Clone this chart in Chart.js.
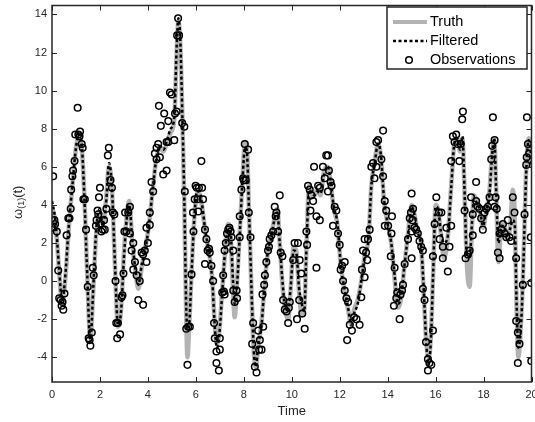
<!DOCTYPE html>
<html>
<head>
<meta charset="utf-8">
<script src="https://cdn.jsdelivr.net/npm/chart.js@4/dist/chart.umd.min.js"></script>
<style>
  html, body { margin: 0; padding: 0; background: #fff; overflow: hidden; }
  #wrap { width: 537px; height: 422px; }
</style>
</head>
<body>
<div id="wrap"><canvas id="myChart"></canvas></div>
<script>
// truth curve (key points)
const truthT = [0.0,0.15,0.3,0.42,0.55,0.7,0.85,1.0,1.12,1.25,1.35,1.45,1.6,1.72,1.85,2.0,2.12,2.25,2.38,2.5,2.62,2.75,2.88,3.0,3.15,3.22,3.35,3.5,3.6,3.75,3.9,4.05,4.2,4.35,4.5,4.65,4.8,4.95,5.1,5.2,5.27,5.35,5.45,5.52,5.6,5.65,5.72,5.82,5.95,6.05,6.15,6.25,6.4,6.55,6.68,6.8,6.88,6.98,7.1,7.22,7.35,7.45,7.55,7.62,7.72,7.85,7.95,8.05,8.12,8.22,8.32,8.42,8.5,8.6,8.75,8.85,9.0,9.15,9.3,9.4,9.5,9.6,9.72,9.85,9.95,10.08,10.2,10.3,10.42,10.52,10.62,10.72,10.85,10.95,11.05,11.2,11.35,11.5,11.62,11.75,11.9,12.05,12.2,12.35,12.48,12.6,12.75,12.9,13.05,13.2,13.32,13.45,13.6,13.72,13.85,14.0,14.15,14.3,14.42,14.55,14.7,14.85,15.0,15.1,15.25,15.4,15.5,15.6,15.7,15.8,15.9,16.0,16.1,16.22,16.35,16.5,16.65,16.78,16.9,17.02,17.12,17.2,17.3,17.42,17.52,17.6,17.72,17.85,17.98,18.1,18.25,18.35,18.45,18.52,18.62,18.75,18.88,19.0,19.12,19.22,19.3,19.38,19.45,19.55,19.65,19.72,19.8,19.88,19.95,20.0];
const truthY = [3.9,3.0,0.5,-1.2,0.0,2.8,5.0,7.0,7.6,6.8,4.5,1.0,-3.0,-0.5,2.6,3.6,3.0,4.2,6.0,4.8,1.0,-2.4,-1.5,1.5,3.8,4.2,2.0,0.3,-0.4,0.8,1.8,3.0,4.8,6.4,7.0,6.8,7.3,7.8,8.5,12.0,13.6,12.5,8.0,4.0,-2.0,-4.0,-2.5,0.5,3.6,4.6,4.6,4.0,2.5,1.5,0.2,-2.5,-3.3,-2.6,-0.5,1.5,3.0,2.4,-0.5,-1.9,0.0,3.0,5.5,7.3,7.2,3.5,-0.5,-3.8,-4.5,-3.5,-2.0,-0.5,1.5,2.4,3.4,3.8,2.0,0.0,-1.5,-2.0,-0.5,1.8,1.5,-0.5,-1.8,-1.5,2.0,5.0,4.5,4.5,4.8,4.5,5.8,6.0,5.2,3.8,3.0,0.8,-0.5,-1.5,-2.3,-1.5,-1.0,0.0,1.4,2.2,5.0,6.2,7.2,6.5,4.2,3.0,2.0,0.0,-1.4,-1.0,0.8,2.5,4.0,3.6,2.6,1.8,-0.5,-3.0,-4.0,-3.0,0.5,4.0,3.8,2.5,1.2,2.2,5.0,7.2,7.5,6.8,7.5,5.0,1.0,-0.3,3.0,4.5,4.2,3.6,2.8,3.6,4.8,6.6,7.4,5.0,1.0,3.0,2.8,2.2,3.0,4.8,3.5,-1.5,-4.0,-2.5,0.5,3.5,6.5,7.5,7.0,6.0];

// filtered estimate (key points)
const filtT = [0.0,0.15,0.3,0.42,0.55,0.7,0.85,1.0,1.12,1.25,1.35,1.45,1.6,1.72,1.85,2.0,2.12,2.25,2.38,2.5,2.62,2.75,2.88,3.0,3.15,3.22,3.35,3.5,3.6,3.75,3.9,4.05,4.2,4.35,4.5,4.65,4.8,4.95,5.1,5.2,5.27,5.35,5.45,5.52,5.6,5.65,5.72,5.82,5.95,6.05,6.15,6.25,6.4,6.55,6.68,6.8,6.88,6.98,7.1,7.22,7.35,7.45,7.55,7.62,7.72,7.85,7.95,8.05,8.12,8.22,8.32,8.42,8.5,8.6,8.75,8.85,9.0,9.15,9.3,9.4,9.5,9.6,9.72,9.85,9.95,10.08,10.2,10.3,10.42,10.52,10.62,10.72,10.85,10.95,11.05,11.2,11.35,11.5,11.62,11.75,11.9,12.05,12.2,12.35,12.48,12.6,12.75,12.9,13.05,13.2,13.32,13.45,13.6,13.72,13.85,14.0,14.15,14.3,14.42,14.55,14.7,14.85,15.0,15.1,15.25,15.4,15.5,15.6,15.7,15.8,15.9,16.0,16.1,16.22,16.35,16.5,16.65,16.78,16.9,17.02,17.12,17.2,17.3,17.42,17.52,17.6,17.72,17.85,17.98,18.1,18.25,18.35,18.45,18.52,18.62,18.75,18.88,19.0,19.12,19.22,19.3,19.38,19.45,19.55,19.65,19.72,19.8,19.88,19.95,20.0];
const filtY = [4.2,3.1,0.6,-1.1,0.2,2.9,5.0,7.0,7.7,7.0,4.4,1.0,-3.2,-0.4,2.8,3.8,2.9,4.0,6.2,4.9,1.1,-2.3,-1.6,1.2,3.7,4.0,2.1,0.4,-0.2,0.9,1.7,3.0,4.8,6.4,7.1,6.9,7.4,8.0,8.6,12.3,13.8,12.7,8.0,4.2,-1.5,-2.5,-2.3,0.4,3.6,4.7,4.7,4.1,2.6,1.5,0.1,-2.6,-3.5,-2.8,-0.6,1.6,2.7,2.5,0.0,-1.2,-0.2,2.9,5.4,7.0,6.9,3.6,-0.4,-3.7,-4.5,-3.4,-2.2,-0.4,1.5,2.3,3.4,3.6,2.0,0.2,-1.3,-1.5,-0.4,1.6,1.4,-0.3,-1.2,-1.6,2.0,4.8,4.6,4.5,4.7,4.6,5.6,6.0,5.3,3.9,3.1,0.8,-0.4,-1.4,-2.3,-1.7,-1.2,0.0,1.3,2.2,5.0,6.1,7.2,6.6,4.3,3.0,2.0,0.2,-1.2,-0.9,0.8,2.4,3.9,3.6,2.6,1.8,-0.3,-3.0,-4.4,-3.2,0.5,3.9,3.8,2.6,2.0,2.3,4.9,7.2,7.5,6.9,7.6,5.0,1.4,1.3,3.1,4.3,4.1,3.7,2.9,3.6,4.6,6.5,7.5,5.0,2.0,2.9,2.8,2.3,2.8,3.2,3.0,-1.3,-3.5,-2.6,0.3,3.4,6.3,7.4,7.0,6.0];

// observations
const obsT = [0.0,0.05,0.1,0.13,0.2,0.26,0.3,0.36,0.4,0.44,0.47,0.52,0.61,0.68,0.73,0.78,0.8,0.85,0.88,0.94,0.97,1.07,1.1,1.15,1.17,1.24,1.28,1.31,1.37,1.42,1.49,1.53,1.57,1.6,1.66,1.7,1.74,1.83,1.86,1.9,1.93,1.96,2.0,2.03,2.06,2.12,2.17,2.2,2.27,2.33,2.37,2.44,2.5,2.54,2.6,2.65,2.68,2.72,2.75,2.84,2.9,2.94,2.98,3.02,3.05,3.1,3.18,3.25,3.25,3.32,3.39,3.39,3.46,3.53,3.6,3.66,3.74,3.8,3.8,3.87,3.94,3.94,4.0,4.08,4.08,4.15,4.22,4.29,4.36,4.43,4.5,4.36,4.54,4.46,4.64,4.78,4.68,4.78,4.85,4.92,4.85,4.99,5.1,5.13,5.2,5.22,5.26,5.3,5.43,5.52,5.54,5.6,5.65,5.68,5.75,5.82,5.88,5.9,5.95,5.99,6.04,6.07,6.1,6.13,6.23,6.26,6.3,6.38,6.38,6.44,6.49,6.55,6.58,6.65,6.72,6.76,6.79,6.86,6.86,6.96,7.0,7.0,7.1,7.14,7.17,7.2,7.2,7.25,7.3,7.35,7.4,7.45,7.49,7.56,7.56,7.62,7.7,7.72,7.83,7.83,7.9,7.97,8.0,8.04,8.08,8.18,8.21,8.28,8.35,8.39,8.46,8.53,8.6,8.64,8.67,8.74,8.78,8.81,8.85,8.88,8.94,9.01,9.05,9.08,9.15,9.22,9.29,9.33,9.36,9.43,9.5,9.54,9.61,9.64,9.71,9.78,9.85,9.88,9.92,10.06,10.12,10.22,10.26,10.31,10.33,10.4,10.44,10.54,10.61,10.64,10.68,10.75,10.78,10.82,10.89,10.93,11.03,11.03,11.1,11.17,11.17,11.3,11.38,11.44,11.51,11.51,11.55,11.62,11.66,11.72,11.79,11.86,11.93,12.0,12.04,12.1,12.14,12.21,12.21,12.28,12.35,12.31,12.42,12.51,12.6,12.7,12.83,12.9,12.93,12.97,13.04,13.04,13.1,13.15,13.18,13.25,13.32,13.39,13.45,13.53,13.6,13.53,13.74,13.81,13.81,13.88,13.94,13.88,14.02,14.16,14.18,14.13,14.29,14.36,14.26,14.4,14.5,14.54,14.6,14.64,14.71,14.85,14.92,14.97,15.0,15.06,15.04,15.0,15.0,15.12,15.19,15.26,15.33,15.4,15.47,15.47,15.54,15.6,15.68,15.74,15.68,15.82,15.89,15.89,15.96,16.03,16.14,16.24,16.17,16.3,16.3,16.45,16.51,16.58,16.65,16.65,16.72,16.79,16.86,16.92,16.99,17.05,17.11,17.14,17.21,17.25,17.35,17.42,17.48,17.55,17.55,17.69,17.69,17.76,17.83,17.9,17.97,18.04,18.11,18.18,18.25,18.32,18.36,18.39,18.46,18.5,18.46,18.55,18.6,18.67,18.67,18.74,18.81,18.88,18.95,19.01,19.08,19.15,19.22,19.29,19.36,19.36,19.43,19.5,19.43,19.64,19.71,19.78,19.8,19.85,19.81,19.9,19.97,19.99,19.99];
const obsY = [2.8,5.5,3.2,3.0,2.6,0.55,-0.9,-1.0,-1.3,-1.1,-1.5,-0.65,2.4,3.3,3.3,3.8,4.8,5.5,5.8,6.3,7.7,9.1,7.7,7.6,7.85,7.2,7.0,4.3,4.3,2.7,-0.3,-3.0,-3.1,-3.4,-2.7,0.7,0.3,2.9,3.2,3.7,3.5,4.4,4.9,3.0,2.6,2.7,3.2,2.7,3.8,6.6,7.0,5.3,4.9,3.6,3.5,0.0,-2.2,-3.0,-2.2,-2.8,-0.85,-0.75,0.4,2.6,3.6,2.6,3.6,3.9,2.5,1.6,2.0,0.6,1.0,0.3,-1.0,0.0,1.5,-1.25,1.4,1.6,1.0,2.8,2.0,2.95,3.6,5.2,4.7,6.7,7.0,7.2,6.5,6.4,8.15,9.2,5.6,5.8,8.8,7.3,7.3,9.9,8.4,9.8,7.4,8.8,8.9,12.9,13.8,12.9,8.3,8.1,4.7,-2.5,-4.4,-2.4,-2.4,0.35,3.6,2.6,4.3,5.0,4.9,4.3,3.65,4.9,6.3,4.9,4.3,2.7,0.9,2.2,1.6,1.7,1.5,0.8,0.0,-2.2,-3.0,-3.7,-4.3,-4.7,-3.0,-3.6,-0.6,0.3,-0.55,1.6,-0.7,2.0,2.5,2.7,2.8,2.6,2.3,1.6,-0.5,-1.1,-0.5,-0.9,2.3,3.4,4.8,5.4,5.3,7.2,5.3,6.9,3.6,2.3,-3.3,-2.2,-4.5,-4.8,-2.6,-3.6,-3.1,-3.6,-0.7,-2.4,-0.2,0.3,1.0,1.6,1.8,2.2,2.4,2.6,3.9,3.4,3.6,2.6,4.5,1.5,1.3,-1.0,-1.5,-1.6,-2.2,-1.4,-1.1,1.1,2.0,-2.0,2.0,-1.0,1.1,0.4,-1.7,-2.5,2.6,1.9,5.0,4.8,3.7,4.5,4.2,6.0,3.4,0.7,5.0,4.9,3.2,6.0,5.4,6.6,6.6,4.7,5.8,5.2,5.0,2.9,3.9,3.7,2.5,1.9,0.6,0.8,0.0,1.0,-0.5,-0.9,-1.1,-3.1,-2.3,-2.6,-1.9,-2.0,-2.3,-0.85,0.6,1.6,0.2,2.2,1.5,1.1,2.2,2.7,6.0,6.2,5.4,7.3,7.4,6.0,6.4,7.9,5.5,4.2,3.7,2.9,2.9,2.5,3.4,1.3,0.7,-0.9,-1.3,-0.6,-2.0,-0.7,-0.5,-0.2,0.9,2.2,3.3,3.6,4.6,3.8,3.2,2.6,1.2,2.8,2.7,2.5,2.1,1.8,1.6,-0.4,-1.0,-3.2,-4.1,-4.3,-4.7,-4.4,-2.6,1.3,3.0,4.4,3.6,3.6,2.2,1.8,1.2,2.8,0.5,1.8,2.9,6.3,7.6,7.3,7.7,7.2,6.3,7.2,8.5,8.9,3.7,1.2,1.4,1.6,4.4,2.4,3.5,5.2,4.2,3.9,3.8,3.3,2.7,3.6,3.8,3.9,4.4,6.4,7.1,8.6,7.4,4.4,3.9,3.8,1.5,1.2,2.5,2.7,3.0,2.5,2.3,3.2,2.3,2.1,4.4,3.6,1.2,-2.1,-2.7,-3.3,-4.3,-0.2,3.5,6.1,6.5,7.2,8.6,6.7,2.3,-0.1,-4.2];

const xTicks = [0, 2, 4, 6, 8, 10, 12, 14, 16, 18, 20];
const yTicks = [-4, -2, 0, 2, 4, 6, 8, 10, 12, 14];

const axisColor = '#262626';
const fontFam = '"Liberation Sans", Arial, sans-serif';

const toXY = (xs, ys) => xs.map((v, i) => ({ x: v, y: ys[i] }));

// box, inward ticks, y title and legend, drawn like the original figure
const figurePlugin = {
  id: 'figure',
  afterDraw(chart) {
    const { ctx, chartArea: a, scales } = chart;
    ctx.save();
    ctx.strokeStyle = axisColor;
    ctx.lineWidth = 1;
    const tl = 5;
    ctx.beginPath();
    xTicks.forEach(v => {
      const px = Math.round(scales.x.getPixelForValue(v)) + 0.5;
      ctx.moveTo(px, a.bottom); ctx.lineTo(px, a.bottom - tl);
      ctx.moveTo(px, a.top); ctx.lineTo(px, a.top + tl);
    });
    yTicks.forEach(v => {
      const py = Math.round(scales.y.getPixelForValue(v)) + 0.5;
      ctx.moveTo(a.left, py); ctx.lineTo(a.left + tl, py);
      ctx.moveTo(a.right, py); ctx.lineTo(a.right - tl, py);
    });
    ctx.stroke();
    ctx.lineWidth = 1.5;
    ctx.strokeRect(a.left, a.top, a.right - a.left, a.bottom - a.top);

    // y axis title with subscript
    ctx.fillStyle = axisColor;
    ctx.translate(18, 219);
    ctx.rotate(-Math.PI / 2);
    ctx.textBaseline = 'middle';
    ctx.textAlign = 'left';
    ctx.font = '13px ' + fontFam;
    ctx.fillText('ω', 0, 0);
    let w = ctx.measureText('ω').width;
    ctx.font = '9px ' + fontFam;
    ctx.fillText('(1)', w, 4);
    w += ctx.measureText('(1)').width;
    ctx.font = '13px ' + fontFam;
    ctx.fillText('(t)', w, 0);
    ctx.restore();

    // legend
    ctx.save();
    const L = 387, T = 7, R = 527, B = 69;
    ctx.fillStyle = '#fff';
    ctx.fillRect(L, T, R - L, B - T);
    ctx.strokeStyle = axisColor;
    ctx.lineWidth = 1.5;
    ctx.strokeRect(L, T, R - L, B - T);
    ctx.lineWidth = 4;
    ctx.strokeStyle = '#b3b3b3';
    ctx.beginPath(); ctx.moveTo(393, 22); ctx.lineTo(427, 22); ctx.stroke();
    ctx.lineWidth = 2.5;
    ctx.strokeStyle = '#000';
    ctx.setLineDash([3, 2.5]);
    ctx.beginPath(); ctx.moveTo(393, 41); ctx.lineTo(427, 41); ctx.stroke();
    ctx.setLineDash([]);
    ctx.lineWidth = 1.5;
    ctx.beginPath(); ctx.arc(409, 60, 3.3, 0, Math.PI * 2); ctx.stroke();
    ctx.fillStyle = '#000';
    ctx.font = '14.5px ' + fontFam;
    ctx.textBaseline = 'middle';
    ctx.fillText('Truth', 430, 22);
    ctx.fillText('Filtered', 430, 41);
    ctx.fillText('Observations', 430, 60);
    ctx.restore();
  }
};

const config = {
  type: 'line',
  data: {
    datasets: [{
      label: 'Truth',
      data: toXY(truthT, truthY),
      borderColor: '#b3b3b3',
      borderWidth: 4.5,
      pointRadius: 0,
      cubicInterpolationMode: 'monotone',
      order: 3,
    }, {
      label: 'Filtered',
      data: toXY(filtT, filtY),
      borderColor: '#000',
      borderWidth: 2.5,
      borderDash: [3, 2.5],
      pointRadius: 0,
      cubicInterpolationMode: 'monotone',
      order: 2,
    }, {
      label: 'Observations',
      data: toXY(obsT, obsY),
      showLine: false,
      pointRadius: 3.3,
      pointBorderWidth: 1.5,
      pointBorderColor: '#000',
      pointBackgroundColor: 'rgba(0,0,0,0)',
      order: 1,
    }]
  },
  options: {
    responsive: true,
    maintainAspectRatio: false,
    animation: false,
    layout: { padding: { top: 1, right: 1, left: 0, bottom: 0 } },
    plugins: { legend: { display: false }, tooltip: { enabled: false } },
    scales: {
      x: {
        type: 'linear',
        min: 0,
        max: 20,
        afterBuildTicks: s => { s.ticks = xTicks.map(v => ({ value: v })); },
        afterFit: s => { s.height = 40; s.paddingLeft = 0; s.paddingRight = 0; },
        grid: { display: false, drawTicks: false },
        border: { display: false },
        ticks: { color: axisColor, font: { family: fontFam, size: 11 }, padding: 6, maxRotation: 0, autoSkip: false },
        title: { display: true, text: 'Time', color: axisColor, font: { family: fontFam, size: 13 }, padding: { top: 0, bottom: 3 } },
      },
      y: {
        min: -5.3,
        max: 14.47,
        afterBuildTicks: s => { s.ticks = yTicks.map(v => ({ value: v })); },
        afterFit: s => { s.width = 52; s.paddingTop = 0; s.paddingBottom = 0; },
        grid: { display: false, drawTicks: false },
        border: { display: false },
        ticks: { color: axisColor, font: { family: fontFam, size: 11 }, padding: 5 },
      }
    }
  },
  plugins: [figurePlugin]
};

const myChart = new Chart(document.getElementById('myChart'), config);
</script>
</body>
</html>
